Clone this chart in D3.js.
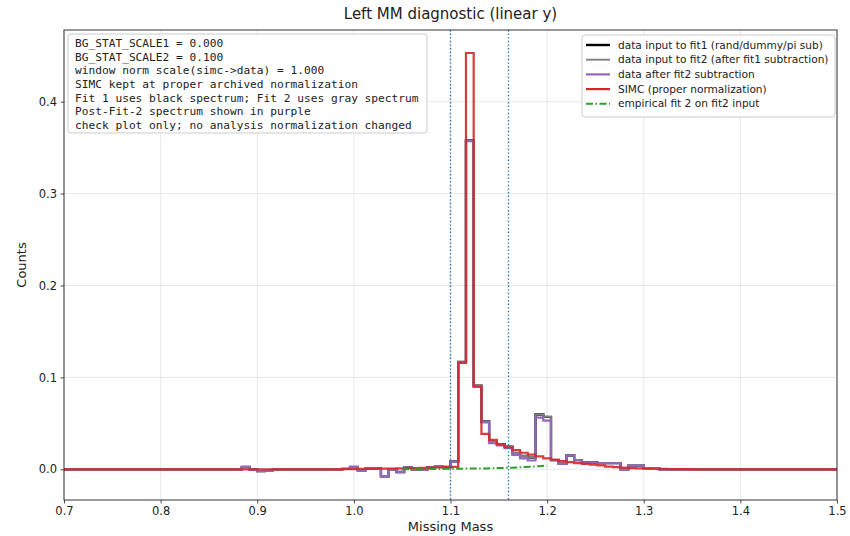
<!DOCTYPE html>
<html><head><meta charset="utf-8">
<script src="https://cdn.jsdelivr.net/npm/d3@7"></script>
<style>
body{margin:0;background:#fff;}
svg{display:block;}
</style></head>
<body><svg id="chart" width="850" height="536"></svg>
<script>
// ---- data ----
const binStart = 0.7, binWidth = 0.008, nBins = 100;
const xTicks = [0.7,0.8,0.9,1.0,1.1,1.2,1.3,1.4,1.5];
const yTicks = [0.0,0.1,0.2,0.3,0.4];
const windowLines = [1.1, 1.16];

// data after fit2 subtraction (purple)
const purple = [
 0,0,0,0,0,0,0,0,0,0, 0,0,0,0,0,0,0,0,0,0,
 0,0,0,0.0025,0,-0.002,-0.001,0,0,0, 0,0,0,0,0,0,0.0005,0.0025,-0.001,0.001,
 0.001,-0.0075,0,-0.003,0.002,-0.0005,-0.0005,0.002,0.0025,0.002,
 0.008,0.116,0.357,0.090,0.051,0.0285,0.026,0.023,0.0157,0.012,
 0.0096,0.0563,0.053,0.010,0.006,0.015,0.010,0.0074,0.0074,0.0067,
 0.0067,0.0067,0,0.004,0.004,0.0013,0.0013,0,0,0,
 0,0,0,0,0,0,0,0,0,0, 0,0,0,0,0,0,0,0,0,0];
// data input to fit2 (gray)
const gray = [
 0,0,0,0,0,0,0,0,0,0, 0,0,0,0,0,0,0,0,0,0,
 0,0,0,0.0025,0,-0.002,-0.001,0,0,0, 0,0,0,0,0,0,0.0005,0.0025,-0.001,0.001,
 0.001,-0.0075,0,-0.003,0.002,-0.0004,-0.0003,0.0023,0.0029,0.0025,
 0.0086,0.1167,0.3578,0.0909,0.052,0.0297,0.0274,0.0247,0.0177,0.0144,
 0.0125,0.0597,0.057,0.010,0.006,0.015,0.010,0.0074,0.0074,0.0067,
 0.0067,0.0067,0,0.004,0.004,0.0013,0.0013,0,0,0,
 0,0,0,0,0,0,0,0,0,0, 0,0,0,0,0,0,0,0,0,0];
// data input to fit1 (black)
const black = [
 0,0,0,0,0,0,0,0,0,0, 0,0,0,0,0,0,0,0,0,0,
 0,0,0,0.0025,0,-0.002,-0.001,0,0,0, 0,0,0,0,0,0,0.0005,0.0025,-0.001,0.001,
 0.001,-0.0075,0,-0.003,0.002,-0.0004,-0.0003,0.0023,0.0029,0.0025,
 0.0086,0.1167,0.3578,0.0909,0.052,0.0297,0.0274,0.0247,0.0177,0.0144,
 0.0125,0.0597,0.057,0.010,0.006,0.015,0.010,0.0074,0.0074,0.0067,
 0.0067,0.0067,0,0.004,0.004,0.0013,0.0013,0,0,0,
 0,0,0,0,0,0,0,0,0,0, 0,0,0,0,0,0,0,0,0,0];
// SIMC (red)
const simc = [
 0,0,0,0,0,0,0,0,0,0, 0,0,0,0,0,0,0,0,0,0,
 0,0,0,0,0,0,0,0,0,0, 0,0,0,0,0,0,0.0002,0.0003,0.0004,0.0005,
 0.0006,0.0007,0.0009,0.001,0.0012,0.0014,0.0016,0.0018,0.002,0.0023,
 0.0027,0.116,0.453,0.090,0.0386,0.032,0.027,0.024,0.021,0.018,
 0.016,0.014,0.012,0.0105,0.009,0.0078,0.0068,0.0058,0.005,0.0042,
 0.003,0.0024,0.0018,0.0013,0.001,0.0008,0.0006,0.0004,0.0003,0.0002,
 0.0001,0,0,0,0,0,0,0,0,0, 0,0,0,0,0,0,0,0,0,0];
// empirical fit 2 (green), at bin centres
const fitX = [1.050,1.056,1.064,1.072,1.080,1.088,1.096,1.104,1.112,1.120,1.128,1.136,1.144,1.152,1.160,1.168,1.176,1.184,1.192,1.200];
const fitY = [0.0000,0.0000,0.0001,0.0002,0.0003,0.0004,0.0005,0.0006,0.0007,0.0008,0.0009,0.0010,0.0012,0.0014,0.0017,0.0020,0.0024,0.0029,0.0034,0.0040];

const infoLines = [
 "BG_STAT_SCALE1 = 0.000",
 "BG_STAT_SCALE2 = 0.100",
 "window norm scale(simc->data) = 1.000",
 "SIMC kept at proper archived normalization",
 "Fit 1 uses black spectrum; Fit 2 uses gray spectrum",
 "Post-Fit-2 spectrum shown in purple",
 "check plot only; no analysis normalization changed"];

const legendItems = [
 {label:"data input to fit1 (rand/dummy/pi sub)", color:"#000000", dash:null, w:2.4},
 {label:"data input to fit2 (after fit1 subtraction)", color:"#808080", dash:null, w:1.9},
 {label:"data after fit2 subtraction", color:"#9467bd", dash:null, w:2.2},
 {label:"SIMC (proper normalization)", color:"#d62728", dash:null, w:2.2},
 {label:"empirical fit 2 on fit2 input", color:"#2ca02c", dash:"7,2.5,1.5,2.5", w:2}];

// ---- layout ----
const SANS = "'DejaVu Sans', sans-serif";
const MONO = "'DejaVu Sans Mono', monospace";
const m = {l:64, r:837, t:30, b:500};
const svg = d3.select("#chart");
const x = d3.scaleLinear().domain([0.7,1.5]).range([m.l,m.r]);
const y = d3.scaleLinear().domain([-0.0334,0.478]).range([m.b,m.t]);

svg.append("clipPath").attr("id","plotclip").append("rect")
  .attr("x",m.l).attr("y",m.t).attr("width",m.r-m.l).attr("height",m.b-m.t);

// grid
const grid = svg.append("g");
xTicks.forEach(t=>grid.append("line").attr("x1",x(t)).attr("x2",x(t)).attr("y1",m.t).attr("y2",m.b)
  .attr("stroke","#b0b0b0").attr("stroke-opacity",0.35).attr("stroke-width",0.8));
yTicks.forEach(t=>grid.append("line").attr("x1",m.l).attr("x2",m.r).attr("y1",y(t)).attr("y2",y(t))
  .attr("stroke","#b0b0b0").attr("stroke-opacity",0.35).attr("stroke-width",0.8));

const plot = svg.append("g").attr("clip-path","url(#plotclip)");

function stepPts(vals){
  const pts = vals.map((v,i)=>[binStart+i*binWidth, v]);
  pts.push([binStart+nBins*binWidth, vals[vals.length-1]]);
  return pts;
}
const stepLine = d3.line().x(d=>x(d[0])).y(d=>y(d[1])).curve(d3.curveStepAfter);

plot.append("path").attr("d",stepLine(stepPts(black))).attr("fill","none").attr("stroke","#000").attr("stroke-width",2.4);
plot.append("path").attr("d",stepLine(stepPts(gray))).attr("fill","none").attr("stroke","#808080").attr("stroke-width",1.9);
plot.append("path").attr("d",stepLine(stepPts(purple))).attr("fill","none").attr("stroke","#9467bd").attr("stroke-width",2.2);
plot.append("path").attr("d",stepLine(stepPts(simc))).attr("fill","none").attr("stroke","#d62728").attr("stroke-width",2.2).attr("stroke-opacity",0.9);
plot.append("path").attr("d",d3.line().x((d,i)=>x(fitX[i])).y(d=>y(d))(fitY))
  .attr("fill","none").attr("stroke","#2ca02c").attr("stroke-width",2).attr("stroke-dasharray","7,2.5,1.5,2.5");

windowLines.forEach(v=>plot.append("line").attr("x1",x(v)).attr("x2",x(v)).attr("y1",m.t).attr("y2",m.b)
  .attr("stroke","#1f77b4").attr("stroke-width",1.4).attr("stroke-dasharray","1.4,2.2"));

// axes
const xAxis = svg.append("g").attr("transform",`translate(0,${m.b})`)
  .call(d3.axisBottom(x).tickValues(xTicks).tickFormat(d3.format(".1f")).tickSize(3.5).tickPadding(3.5));
const yAxis = svg.append("g").attr("transform",`translate(${m.l},0)`)
  .call(d3.axisLeft(y).tickValues(yTicks).tickFormat(d3.format(".1f")).tickSize(3.5).tickPadding(3.5));
[xAxis,yAxis].forEach(a=>{a.select(".domain").remove();
  a.selectAll("text").style("font-size","11.5px").style("font-family",SANS).attr("fill","#222");
  a.selectAll("line").attr("stroke","#222").attr("stroke-width",0.8);});
svg.append("rect").attr("x",m.l).attr("y",m.t).attr("width",m.r-m.l).attr("height",m.b-m.t)
  .attr("fill","none").attr("stroke","#222").attr("stroke-width",0.9);

svg.append("text").attr("x",(m.l+m.r)/2).attr("y",19).attr("text-anchor","middle")
  .style("font-family",SANS).style("font-size","15px").attr("fill","#222").text("Left MM diagnostic (linear y)");
svg.append("text").attr("x",(m.l+m.r)/2).attr("y",531).attr("text-anchor","middle")
  .style("font-family",SANS).style("font-size","13px").attr("fill","#222").text("Missing Mass");
svg.append("text").attr("transform",`translate(26,${(m.t+m.b)/2}) rotate(-90)`).attr("text-anchor","middle")
  .style("font-family",SANS).style("font-size","13px").attr("fill","#222").text("Counts");

// info box
const ib = svg.append("g");
ib.append("rect").attr("x",68).attr("y",34).attr("width",359).attr("height",99).attr("rx",3)
  .attr("fill","#fff").attr("fill-opacity",0.85).attr("stroke","#cccccc").attr("stroke-width",1);
infoLines.forEach((t,i)=>ib.append("text").attr("x",75).attr("y",47+i*13.65)
  .style("font-family",MONO).style("font-size","11.2px").attr("fill","#222").text(t));

// legend
const lg = svg.append("g");
lg.append("rect").attr("x",582).attr("y",35).attr("width",253).attr("height",82).attr("rx",3)
  .attr("fill","#fff").attr("fill-opacity",0.85).attr("stroke","#cccccc").attr("stroke-width",1);
legendItems.forEach((d,i)=>{
  const yy = 45 + i*14.7;
  lg.append("line").attr("x1",586).attr("x2",610).attr("y1",yy).attr("y2",yy)
    .attr("stroke",d.color).attr("stroke-width",d.w).attr("stroke-dasharray",d.dash);
  lg.append("text").attr("x",618).attr("y",yy+3.6)
    .style("font-family",SANS).style("font-size","10.6px").attr("fill","#222").text(d.label);
});
</script></body></html>
